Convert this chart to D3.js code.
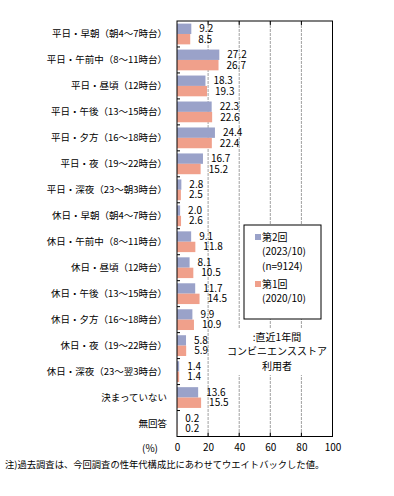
<!DOCTYPE html>
<html>
<head>
<meta charset="utf-8">
<script src="https://cdn.jsdelivr.net/npm/d3@7"></script>
<style>
  body { margin: 0; background: #fff; }
  svg text { font-family: "Noto Sans CJK JP", sans-serif; fill: #000; }
</style>
</head>
<body>
<div id="chartDiv"></div>
<script>
//--------------------------------------------------------------------------------
// data
var categories = [
   "平日・早朝（朝4～7時台）",
   "平日・午前中（8～11時台）",
   "平日・昼頃（12時台）",
   "平日・午後（13～15時台）",
   "平日・夕方（16～18時台）",
   "平日・夜（19～22時台）",
   "平日・深夜（23～朝3時台）",
   "休日・早朝（朝4～7時台）",
   "休日・午前中（8～11時台）",
   "休日・昼頃（12時台）",
   "休日・午後（13～15時台）",
   "休日・夕方（16～18時台）",
   "休日・夜（19～22時台）",
   "休日・深夜（23～翌3時台）",
   "決まっていない",
   "無回答"
];
var round2 = [9.2, 27.2, 18.3, 22.3, 24.4, 16.7, 2.8, 2.0, 9.1, 8.1, 11.7, 9.9, 5.8, 1.4, 13.6, 0.2];
var round1 = [8.5, 26.7, 19.3, 22.6, 22.4, 15.2, 2.5, 2.6, 11.8, 10.5, 14.5, 10.9, 5.9, 1.4, 15.5, 0.2];
var seriesNames = ["第2回", "第1回"];
var legendSub = [["(2023/10)", "(n=9124)"], ["(2020/10)"]];
var xTicks = [0, 20, 40, 60, 80, 100];
var noteLines = [":直近1年間", "コンビニエンスストア", "利用者"];
var footnote = "注)過去調査は、今回調査の性年代構成比にあわせてウエイトバックした値。";
//--------------------------------------------------------------------------------
var width = 394, height = 496;
var colors = ["#9aa2c9", "#f0a08b"];
var plotLeft = 177, plotRight = 332.5, plotTop = 21, plotBottom = 436.5;

var svg = d3.select("#chartDiv").append("svg")
    .attr("width", width)
    .attr("height", height);

var xScale = d3.scaleLinear().domain([0, 100]).range([plotLeft, plotRight]);
var yScale = d3.scaleBand().domain(categories).range([plotTop, plotBottom])
    .paddingInner(0.2).paddingOuter(0.1);
var inner = d3.scaleBand().domain([0, 1]).range([0, yScale.bandwidth()]);

   // gridlines (dashed) and small ticks on top/bottom
xTicks.slice(1, -1).forEach(function(t){
   svg.append("line")
      .attr("x1", xScale(t)).attr("x2", xScale(t))
      .attr("y1", plotTop).attr("y2", plotBottom)
      .attr("stroke", "#a0a0a0").attr("stroke-width", 1)
      .attr("stroke-dasharray", "3,1");
   svg.append("line")
      .attr("x1", xScale(t)).attr("x2", xScale(t))
      .attr("y1", plotTop).attr("y2", plotTop + 4)
      .attr("stroke", "#000");
   svg.append("line")
      .attr("x1", xScale(t)).attr("x2", xScale(t))
      .attr("y1", plotBottom - 4).attr("y2", plotBottom)
      .attr("stroke", "#000");
   });

   // white patch behind the note text
svg.append("rect")
   .attr("x", 229).attr("y", 328).attr("width", 96).attr("height", 47)
   .attr("fill", "#fff");

noteLines.forEach(function(s, i){
   svg.append("text")
      .attr("x", 277).attr("y", 337 + i * 14.5)
      .attr("dy", "0.35em")
      .attr("text-anchor", "middle")
      .attr("font-size", 10)
      .text(s);
   });

   // bars
var series = [round2, round1];
series.forEach(function(vals, s){
   svg.append("g").selectAll("rect")
      .data(vals)
      .enter()
      .append("rect")
      .attr("x", xScale(0))
      .attr("y", function(d, i){ return yScale(categories[i]) + inner(s); })
      .attr("width", function(d){ return xScale(d) - xScale(0); })
      .attr("height", inner.bandwidth())
      .attr("fill", colors[s]);

   svg.append("g").selectAll("text")
      .data(vals)
      .enter()
      .append("text")
      .attr("x", function(d){ return xScale(d) + 8; })
      .attr("y", function(d, i){ return yScale(categories[i]) + inner(s) + inner.bandwidth() / 2; })
      .attr("dy", "0.35em")
      .attr("font-size", 10)
      .text(function(d){ return d.toFixed(1); });
   });

   // row boundary ticks on the left axis
var step = yScale.step();
d3.range(1, categories.length).forEach(function(i){
   var y = plotTop + i * step;
   svg.append("line")
      .attr("x1", plotLeft).attr("x2", plotLeft + 3)
      .attr("y1", y).attr("y2", y)
      .attr("stroke", "#000");
   });

   // plot frame
svg.append("rect")
   .attr("x", plotLeft).attr("y", plotTop)
   .attr("width", plotRight - plotLeft).attr("height", plotBottom - plotTop)
   .attr("fill", "none").attr("stroke", "#000").attr("stroke-width", 1);

   // category axis
var yAxis = d3.axisLeft(yScale).tickSize(0).tickPadding(10);
svg.append("g")
   .attr("transform", "translate(" + plotLeft + ",0)")
   .call(yAxis)
   .call(function(g){ g.select(".domain").remove(); })
   .selectAll("text")
   .attr("font-size", 9.5)
   .style("font-family", "'Noto Sans CJK JP', sans-serif");

   // value axis labels
var xAxis = d3.axisBottom(xScale).tickValues(xTicks).tickSize(0).tickPadding(7);
svg.append("g")
   .attr("transform", "translate(0," + plotBottom + ")")
   .call(xAxis)
   .call(function(g){ g.select(".domain").remove(); })
   .selectAll("text")
   .attr("font-size", 10)
   .style("font-family", "'Noto Sans CJK JP', sans-serif");

svg.append("text")
   .attr("x", 150).attr("y", 448)
   .attr("dy", "0.35em")
   .attr("text-anchor", "middle")
   .attr("font-size", 10)
   .text("(%)");

   // legend
var legend = svg.append("g");
legend.append("rect")
   .attr("x", 244).attr("y", 225).attr("width", 77).attr("height", 94)
   .attr("fill", "#fff").attr("stroke", "#000");

var legendY = [237, 284];
seriesNames.forEach(function(name, s){
   legend.append("rect")
      .attr("x", 255).attr("y", legendY[s] - 3).attr("width", 6).attr("height", 6)
      .attr("fill", colors[s]);
   legend.append("text")
      .attr("x", 262).attr("y", legendY[s])
      .attr("dy", "0.35em")
      .attr("font-size", 10)
      .text(name);
   legendSub[s].forEach(function(t, j){
      legend.append("text")
         .attr("x", 262).attr("y", legendY[s] + 14.5 * (j + 1))
         .attr("dy", "0.35em")
         .attr("font-size", 10)
         .text(t);
      });
   });

   // footnote
svg.append("text")
   .attr("x", 5).attr("y", 465)
   .attr("dy", "0.35em")
   .attr("font-size", 9.3)
   .text(footnote);
//--------------------------------------------------------------------------------
</script>
</body>
</html>
